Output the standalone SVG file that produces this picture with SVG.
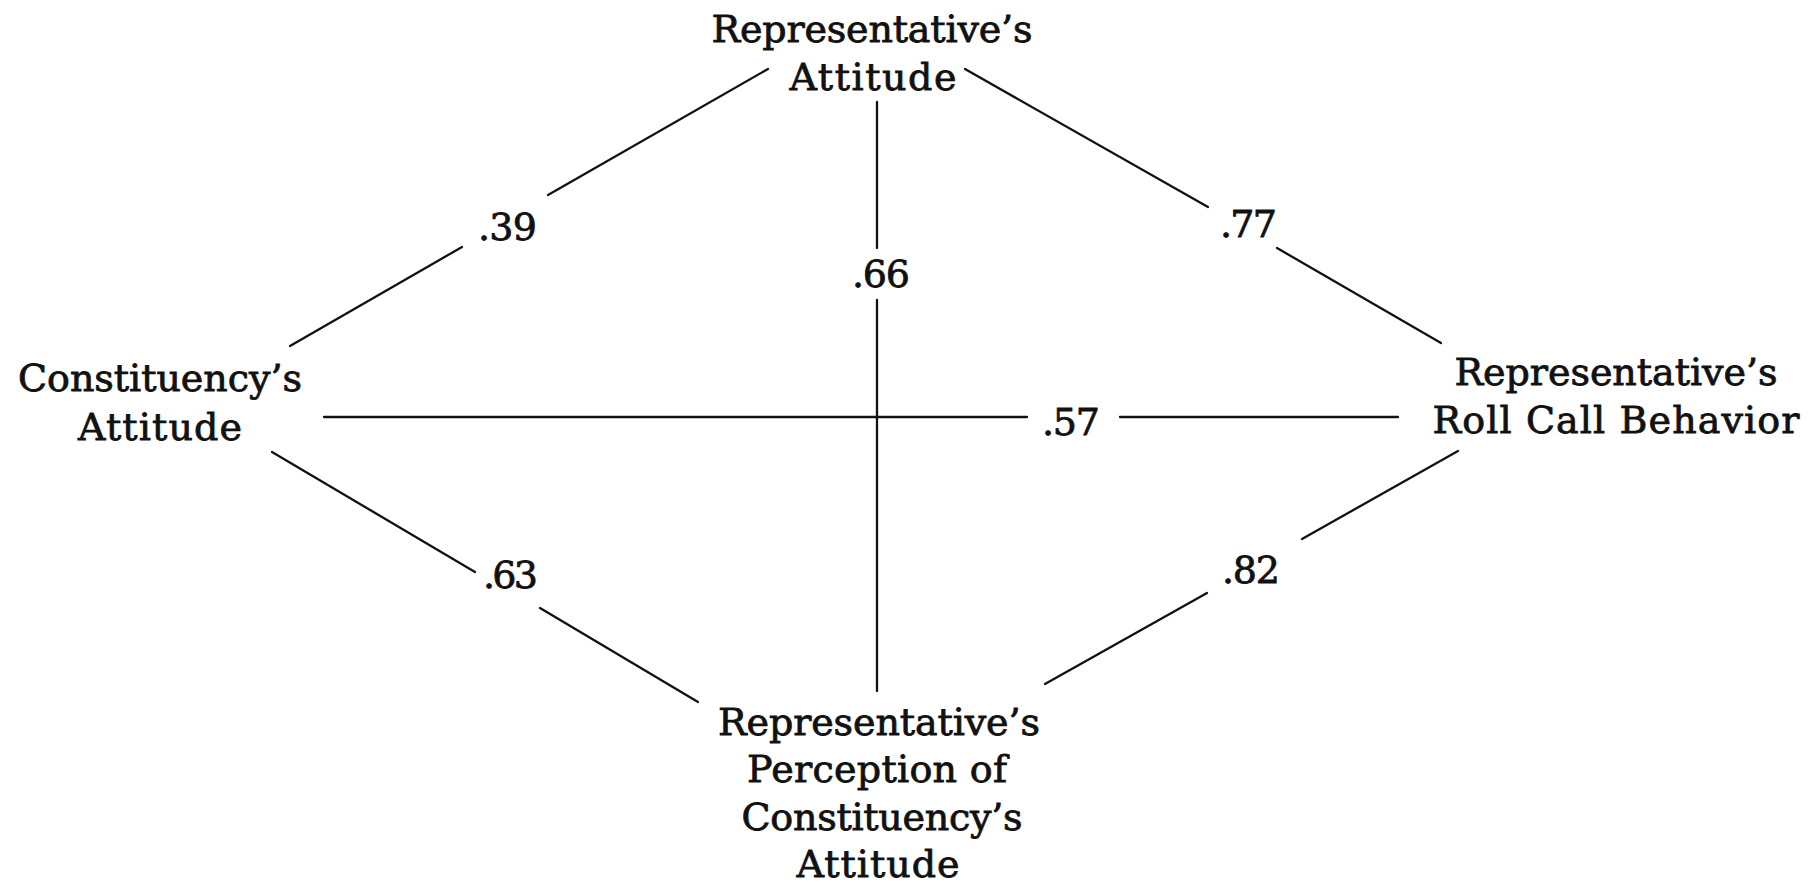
<svg xmlns="http://www.w3.org/2000/svg" width="1809" height="887" viewBox="0 0 1809 887">
<style>
text{font-family:"DejaVu Serif","Liberation Serif",serif;font-size:38px;fill:#111;stroke:#111;stroke-width:0.8;text-anchor:middle}
.lab{text-anchor:start}
line{stroke:#111;stroke-width:2.3;stroke-linecap:round}
</style>
<rect width="1809" height="887" fill="#fff"/>
<g id="connectors">
<line x1="290" y1="346" x2="462" y2="247"/>
<line x1="548" y1="195" x2="768" y2="69"/>
<line x1="965" y1="69" x2="1208" y2="207"/>
<line x1="1277" y1="248" x2="1441" y2="343"/>
<line x1="272" y1="452" x2="475" y2="572"/>
<line x1="540" y1="608" x2="698" y2="702"/>
<line x1="1302" y1="539" x2="1458" y2="451"/>
<line x1="1045" y1="684" x2="1207" y2="593"/>
<line x1="877" y1="102" x2="877" y2="248"/>
<line x1="877" y1="300" x2="877" y2="691"/>
<line x1="324" y1="417" x2="1027" y2="417"/>
<line x1="1120" y1="417" x2="1398" y2="417"/>
<text class="lab" x="478" y="240" textLength="59">.39</text>
<text class="lab" x="1220" y="237" textLength="57">.77</text>
<text class="lab" x="852" y="287" textLength="58">.66</text>
<text class="lab" x="1042" y="435" textLength="58">.57</text>
<text class="lab" x="483" y="588" textLength="55">.63</text>
<text class="lab" x="1222" y="583" textLength="58">.82</text>
</g>
<g id="rep-attitude">
<text x="872" y="42" textLength="321">Representative’s</text>
<text x="873" y="90" textLength="167">Attitude</text>
</g>
<g id="const-attitude">
<text x="160" y="391" textLength="284">Constituency’s</text>
<text x="160" y="440" textLength="164">Attitude</text>
</g>
<g id="roll-call">
<text x="1616" y="385" textLength="323">Representative’s</text>
<text x="1616" y="433" textLength="367">Roll Call Behavior</text>
</g>
<g id="perception">
<text x="879" y="735" textLength="322">Representative’s</text>
<text x="877" y="782" textLength="260">Perception of</text>
<text x="882" y="830" textLength="281">Constituency’s</text>
<text x="878" y="877" textLength="163">Attitude</text>
</g>
</svg>
